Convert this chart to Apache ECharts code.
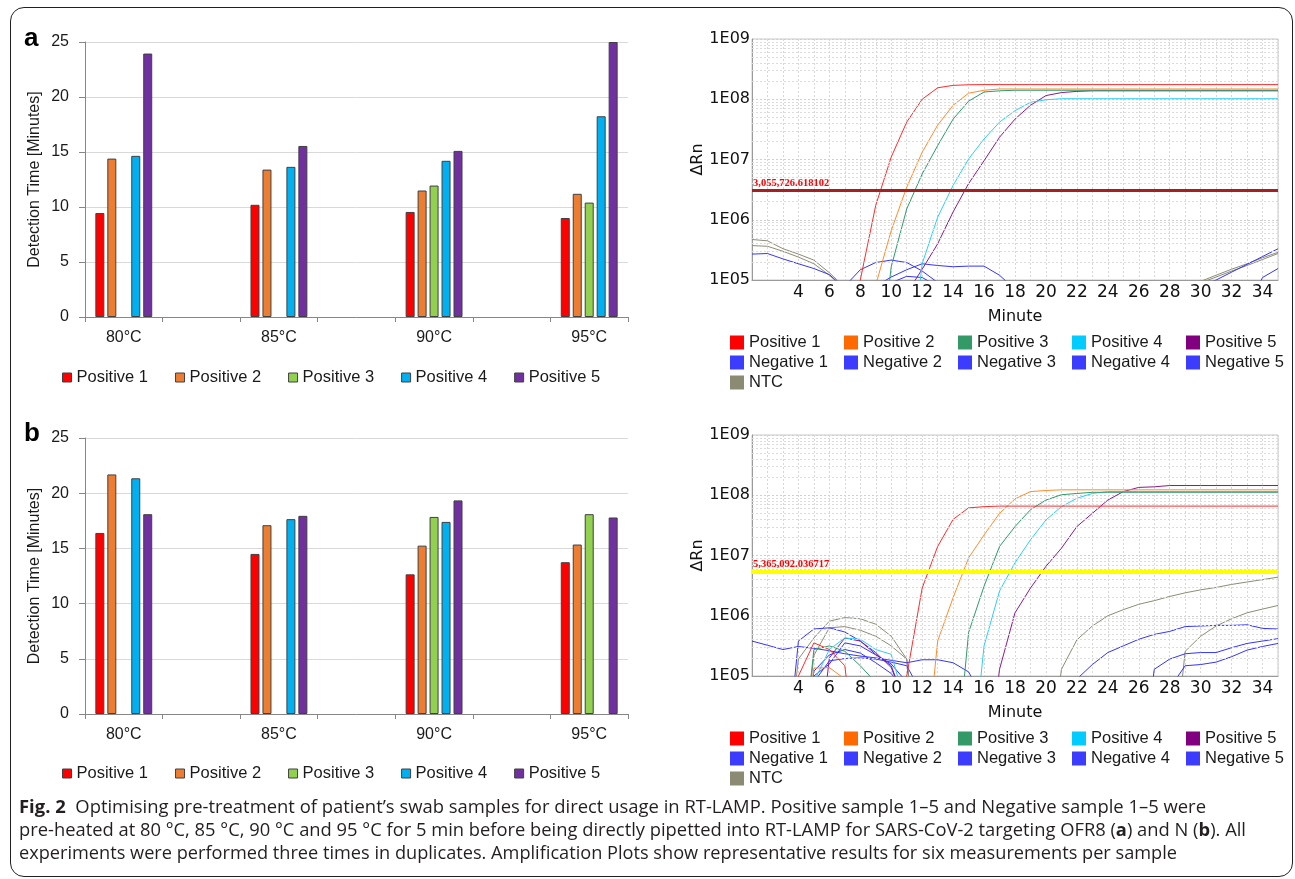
<!DOCTYPE html>
<html><head><meta charset="utf-8">
<script src="https://cdn.jsdelivr.net/npm/echarts@6/dist/echarts.min.js"></script>
<style>
html,body{margin:0;padding:0;background:#fff;}
#frame{position:absolute;left:10px;top:7px;width:1283px;height:870px;border:1px solid #231f20;border-radius:14px;box-sizing:border-box;}
#chart{position:absolute;left:0;top:0;width:1295px;height:879px;}
#cap{position:absolute;left:19px;top:794px;font-family:'Open Sans',sans-serif;font-size:18.5px;color:#231f20;line-height:23px;}
#cap .l{white-space:nowrap;transform-origin:0 0;width:max-content;height:23px;}
</style></head><body>
<div id="frame"></div>
<div id="chart"></div>
<div id="cap">
<div class="l"><b>Fig. 2</b>&nbsp; Optimising pre-treatment of patient’s swab samples for direct usage in RT-LAMP. Positive sample 1–5 and Negative sample 1–5 were</div>
<div class="l">pre-heated at 80 °C, 85 °C, 90 °C and 95 °C for 5 min before being directly pipetted into RT-LAMP for SARS-CoV-2 targeting OFR8 (<b>a</b>) and N (<b>b</b>). All</div>
<div class="l">experiments were performed three times in duplicates. Amplification Plots show representative results for six measurements per sample</div>
</div>
<script>
// ---------- Bar charts (Detection time, minutes) ----------
const temps = ['80°C', '85°C', '90°C', '95°C'];
const posNames = ['Positive 1', 'Positive 2', 'Positive 3', 'Positive 4', 'Positive 5'];
// panel a (ORF8)
const barA_P1 = [9.45, 10.2, 9.55, 9.0];
const barA_P2 = [14.4, 13.4, 11.5, 11.2];
const barA_P3 = [null, null, 11.95, 10.4];
const barA_P4 = [14.65, 13.65, 14.2, 18.25];
const barA_P5 = [23.95, 15.55, 15.1, 25.0];
// panel b (N)
const barB_P1 = [16.4, 14.5, 12.65, 13.75];
const barB_P2 = [21.7, 17.1, 15.25, 15.35];
const barB_P3 = [null, null, 17.85, 18.1];
const barB_P4 = [21.35, 17.65, 17.4, null];
const barB_P5 = [18.1, 17.95, 19.35, 17.8];

// ---------- Amplification plots (ΔRn vs minute) ----------
const minutes = [1,2,3,4,5,6,7,8,9,10,11,12,13,14,15,16,17,18,19,20,21,22,23,24,25,26,27,28,29,30,31,32,33,34,35];
const LO = 1e3; // below the plotted range
const thresholdA = 3055726.618102;
const thresholdB = 5365092.036717;
const yTickLabels = ['1E05','1E06','1E07','1E08','1E09'];
const logMinorLines = [2e5,3e5,4e5,5e5,6e5,7e5,8e5,9e5,2e6,3e6,4e6,5e6,6e6,7e6,8e6,9e6,2e7,3e7,4e7,5e7,6e7,7e7,8e7,9e7,2e8,3e8,4e8,5e8,6e8,7e8,8e8,9e8];

// panel a
const ampA_P1 = [LO,LO,LO,LO,LO,LO,LO,1.0e5,1.74e6,1.1e7,4.17e7,1.0e8,1.55e8,1.7e8,1.74e8,1.75e8,1.75e8,1.75e8,1.75e8,1.75e8,1.75e8,1.75e8,1.75e8,1.75e8,1.75e8,1.75e8,1.75e8,1.75e8,1.75e8,1.75e8,1.75e8,1.75e8,1.75e8,1.75e8,1.75e8];
const ampA_P2 = [LO,LO,LO,LO,LO,LO,LO,LO,8.3e4,6.6e5,3.47e6,1.32e7,3.72e7,7.94e7,1.26e8,1.41e8,1.48e8,1.48e8,1.48e8,1.48e8,1.48e8,1.48e8,1.48e8,1.48e8,1.48e8,1.48e8,1.48e8,1.48e8,1.48e8,1.48e8,1.48e8,1.48e8,1.48e8,1.48e8,1.48e8];
const ampA_P3 = [LO,LO,LO,LO,LO,LO,LO,LO,LO,1.66e5,1.51e6,5.75e6,1.7e7,4.68e7,9.3e7,1.32e8,1.38e8,1.41e8,1.41e8,1.41e8,1.41e8,1.41e8,1.41e8,1.41e8,1.41e8,1.41e8,1.41e8,1.41e8,1.41e8,1.41e8,1.41e8,1.41e8,1.41e8,1.41e8,1.41e8];
const ampA_P4 = [LO,LO,LO,LO,LO,LO,LO,LO,LO,LO,LO,1.86e5,1.1e6,3.72e6,1.02e7,2.19e7,4.17e7,6.46e7,8.9e7,9.8e7,1.02e8,1.02e8,1.02e8,1.02e8,1.02e8,1.02e8,1.02e8,1.02e8,1.02e8,1.02e8,1.02e8,1.02e8,1.02e8,1.02e8,1.02e8];
const ampA_P5 = [LO,LO,LO,LO,LO,LO,LO,LO,LO,LO,6.0e4,1.51e5,3.98e5,1.35e6,3.98e6,9.55e6,2.34e7,4.68e7,7.94e7,1.15e8,1.29e8,1.35e8,1.38e8,1.38e8,1.38e8,1.38e8,1.38e8,1.38e8,1.38e8,1.38e8,1.38e8,1.38e8,1.38e8,1.38e8,1.38e8];
const ampA_N1 = [2.69e5,2.75e5,2.24e5,1.86e5,1.55e5,1.23e5,7.3e4,LO,LO,LO,LO,LO,LO,LO,LO,LO,LO,LO,LO,LO,LO,LO,LO,LO,LO,LO,LO,LO,LO,LO,LO,LO,LO,LO,LO];
const ampA_N2 = [LO,LO,LO,LO,LO,LO,7.9e4,1.48e5,1.95e5,2.14e5,1.95e5,1.41e5,9.1e4,LO,LO,LO,LO,LO,LO,LO,LO,LO,LO,LO,LO,LO,LO,LO,LO,LO,LO,LO,LO,LO,LO];
const ampA_N3 = [LO,LO,LO,LO,LO,LO,LO,LO,7.9e4,1.12e5,1.48e5,1.86e5,1.74e5,1.66e5,1.7e5,1.7e5,1.2e5,7e4,LO,LO,LO,LO,LO,LO,LO,LO,LO,LO,LO,LO,LO,LO,LO,LO,LO];
const ampA_N4 = [LO,LO,LO,LO,LO,LO,LO,LO,LO,9e4,1.15e5,1.1e5,7.9e4,LO,LO,LO,LO,LO,LO,LO,LO,LO,LO,LO,LO,LO,LO,LO,LO,LO,LO,LO,LO,LO,LO];
const ampA_N5 = [LO,LO,LO,LO,LO,LO,LO,LO,LO,LO,LO,LO,LO,LO,LO,LO,LO,LO,LO,LO,LO,LO,LO,LO,LO,LO,LO,LO,LO,7.9e4,1.0e5,1.35e5,1.82e5,2.45e5,3.3e5];
const ampA_N5b = [LO,LO,LO,LO,LO,LO,LO,LO,LO,LO,LO,LO,LO,LO,LO,LO,LO,LO,LO,LO,LO,LO,LO,LO,LO,LO,LO,LO,LO,LO,LO,LO,3.2e4,1.1e5,1.55e5];
const ampA_NTC1 = [4.7e5,4.47e5,3.31e5,2.69e5,2.14e5,1.32e5,7.6e4,LO,LO,LO,LO,LO,LO,LO,LO,LO,LO,LO,LO,LO,LO,LO,LO,LO,LO,LO,LO,LO,LO,9.5e4,1.2e5,1.51e5,1.86e5,2.34e5,2.88e5];
const ampA_NTC2 = [3.72e5,3.63e5,3.0e5,2.4e5,1.86e5,1.2e5,7e4,LO,LO,LO,LO,LO,LO,LO,LO,LO,LO,LO,LO,LO,LO,LO,LO,LO,LO,LO,LO,LO,LO,9e4,1.12e5,1.41e5,1.74e5,2.19e5,2.75e5];

// panel b
const ampB_P1 = [LO,LO,LO,1.0e5,3.55e5,2.75e5,1.48e5,LO,LO,LO,1.0e5,2.88e6,1.41e7,3.98e7,6.17e7,6.46e7,6.6e7,6.6e7,6.6e7,6.6e7,6.6e7,6.6e7,6.6e7,6.6e7,6.6e7,6.6e7,6.6e7,6.6e7,6.6e7,6.6e7,6.6e7,6.6e7,6.6e7,6.6e7,6.6e7];
const ampB_P2 = [LO,LO,LO,LO,1.35e5,1.38e5,8.9e4,LO,LO,LO,LO,LO,3.8e5,2.0e6,9.12e6,2.19e7,5.01e7,8.71e7,1.15e8,1.2e8,1.23e8,1.23e8,1.23e8,1.23e8,1.23e8,1.23e8,1.23e8,1.23e8,1.23e8,1.23e8,1.23e8,1.23e8,1.23e8,1.23e8,1.23e8];
const ampB_P3 = [LO,LO,LO,LO,2.75e5,3.16e5,2.57e5,1.48e5,7.8e4,LO,LO,LO,LO,LO,5.25e5,3.09e6,1.41e7,3.02e7,5.75e7,8.32e7,1.02e8,1.07e8,1.12e8,1.12e8,1.12e8,1.12e8,1.12e8,1.12e8,1.12e8,1.12e8,1.12e8,1.12e8,1.12e8,1.12e8,1.12e8];
const ampB_P4 = [LO,LO,LO,LO,8e4,2.75e5,4.27e5,4.07e5,2.75e5,2.29e5,3e4,LO,LO,LO,LO,3.16e5,2.57e6,7.59e6,1.82e7,3.89e7,6.46e7,8.91e7,1.07e8,1.15e8,1.15e8,1.15e8,1.15e8,1.15e8,1.15e8,1.15e8,1.15e8,1.15e8,1.15e8,1.15e8,1.15e8];
const ampB_P5 = [LO,LO,LO,LO,LO,2.0e5,4.27e5,3.8e5,2.29e5,1.48e5,3e4,LO,LO,LO,LO,LO,1.29e5,1.12e6,2.88e6,6.61e6,1.32e7,3.02e7,5.01e7,8.32e7,1.15e8,1.35e8,1.38e8,1.45e8,1.45e8,1.45e8,1.45e8,1.45e8,1.45e8,1.45e8,1.45e8];
const ampB_N1 = [3.8e5,3.24e5,2.75e5,3.09e5,2.88e5,2.63e5,2.34e5,2.14e5,2.0e5,1.82e5,1.66e5,1.86e5,1.86e5,1.66e5,1.17e5,4e4,LO,LO,LO,LO,LO,LO,LO,LO,LO,LO,LO,LO,LO,LO,LO,LO,LO,LO,LO];
const ampB_N2 = [LO,LO,LO,3.8e5,6.03e5,6.31e5,5.37e5,3.8e5,2.45e5,1.38e5,3e4,LO,LO,LO,LO,LO,LO,LO,LO,LO,LO,8.9e4,1.55e5,2.45e5,3.16e5,4.07e5,4.9e5,5.5e5,6.61e5,6.76e5,6.92e5,6.92e5,7.08e5,6.17e5,6.03e5];
const ampB_N3 = [LO,LO,LO,LO,7.9e4,1.78e5,1.95e5,2.0e5,1.91e5,1.7e5,1.48e5,5e4,LO,LO,LO,LO,LO,LO,LO,LO,LO,LO,LO,LO,LO,LO,1.29e5,1.91e5,2.34e5,2.45e5,2.45e5,2.95e5,3.47e5,3.8e5,4.17e5];
const ampB_N4 = [LO,LO,LO,LO,1.2e5,2.24e5,2.75e5,2.4e5,1.66e5,1.1e5,5e4,LO,LO,LO,LO,LO,LO,LO,LO,LO,LO,LO,LO,LO,LO,LO,LO,6.3e4,1.48e5,1.55e5,1.7e5,2.09e5,2.69e5,3.09e5,3.47e5];
const ampB_N5 = [LO,LO,LO,LO,1.0e5,1.58e5,3.55e5,3.16e5,2.24e5,1.58e5,7.9e4,LO,LO,LO,LO,LO,LO,LO,LO,LO,LO,LO,LO,LO,LO,LO,LO,LO,LO,LO,LO,LO,LO,LO,LO];
const ampB_NTC1 = [LO,LO,LO,1.91e5,4.27e5,8.13e5,9.33e5,8.91e5,7.24e5,4.57e5,1.91e5,LO,LO,LO,LO,LO,LO,LO,LO,LO,1.29e5,3.98e5,6.76e5,1.0e6,1.26e6,1.55e6,1.78e6,2.09e6,2.4e6,2.69e6,2.95e6,3.31e6,3.63e6,3.98e6,4.37e6];
const ampB_NTC2 = [LO,LO,LO,LO,2.2e5,6.3e5,6.6e5,5.75e5,4.57e5,3.16e5,1.91e5,LO,LO,LO,LO,LO,LO,LO,LO,LO,LO,LO,LO,LO,LO,LO,LO,LO,2.57e5,4.57e5,6.76e5,8.91e5,1.12e6,1.29e6,1.48e6];

// ---------- styles ----------
const barColors = ['#ff0000', '#ed7d31', '#92d050', '#00b0f0', '#7030a0'];
const ampLineColors = {P1:'#ff2a2a', P2:'#ff8a2a', P3:'#2e9a6a', P4:'#2ccdf8', P5:'#8a1a8a', NEG:'#3434ff', NTC:'#8c8c76'};
const ampLegendNames = ['Positive 1','Positive 2','Positive 3','Positive 4','Positive 5','Negative 1','Negative 2','Negative 3','Negative 4','Negative 5','NTC'];
const ampLegendColors = ['#ff0000','#ff6a00','#339966','#00ccff','#800080','#3c3cff','#3c3cff','#3c3cff','#3c3cff','#3c3cff','#8b8b73'];

const SANS = 'Liberation Sans';
const VER = 'DejaVu Sans';
const expand = v => [v[0], null, v[1], null, v[2], null, v[3]];
const cats = [temps[0], '', temps[1], '', temps[2], '', temps[3]];
const pairs = arr => minutes.map((m, i) => [m, arr[i]]);

function barAxes(gi) {
  return {
    x: {type:'category', gridIndex:gi, data:cats,
        axisLine:{lineStyle:{color:'#868686'}},
        axisTick:{show:true, length:5, lineStyle:{color:'#868686'}},
        axisLabel:{interval:0, margin:13, fontSize:16, fontFamily:SANS, color:'#1a1a1a'}},
    y: {type:'value', gridIndex:gi, min:0, max:25, interval:5,
        axisLine:{show:true, lineStyle:{color:'#868686'}},
        axisTick:{show:true, length:6, lineStyle:{color:'#868686'}},
        axisLabel:{margin:16, fontSize:16, fontFamily:SANS, color:'#1a1a1a'},
        splitLine:{lineStyle:{color:'#d9d9d9'}},
        name:'Detection Time [Minutes]', nameLocation:'middle', nameGap:42,
        nameTextStyle:{fontSize:16, fontFamily:SANS, color:'#1a1a1a'}}
  };
}
function ampAxes(gi) {
  return {
    x: {type:'value', gridIndex:gi, min:1, max:35, interval:1,
        axisLine:{lineStyle:{color:'#9a9a9a'}}, axisTick:{show:false},
        axisLabel:{margin:4, fontSize:17, fontFamily:VER, color:'#111',
          formatter: v => (v >= 4 && v % 2 === 0) ? String(v) : ''},
        splitLine:{show:true, lineStyle:{color:'#d6d6d6', type:[2,2]}},
        name:'Minute', nameLocation:'middle', nameGap:29,
        nameTextStyle:{fontSize:16, fontFamily:VER, color:'#111'}},
    y: {type:'log', logBase:10, gridIndex:gi, min:1e5, max:1e9,
        axisLine:{show:true, lineStyle:{color:'#9a9a9a'}}, axisTick:{show:false},
        axisLabel:{margin:2, fontSize:16, fontFamily:VER, color:'#111',
          formatter: v => yTickLabels[Math.round(Math.log10(v)) - 5]},
        splitLine:{show:true, lineStyle:{color:'#cfcfcf', type:[2,2]}},
        name:'ΔRn', nameLocation:'middle', nameGap:42,
        nameTextStyle:{fontSize:16, fontFamily:VER, color:'#111'}}
  };
}
const bA = barAxes(0), bB = barAxes(1), aA = ampAxes(2), aB = ampAxes(3);

const series = [];
function addBars(gi, sets) {
  sets.forEach((vals, i) => series.push({
    type:'bar', name:posNames[i], xAxisIndex:gi, yAxisIndex:gi, data:expand(vals),
    barWidth:9, barGap:'33%',
    itemStyle:{color:barColors[i], borderColor:'#404040', borderWidth:1}
  }));
}
addBars(0, [barA_P1, barA_P2, barA_P3, barA_P4, barA_P5]);
addBars(1, [barB_P1, barB_P2, barB_P3, barB_P4, barB_P5]);

function addHelpers(gi, thr, thrColor, thrWidth) {
  series.push({type:'line', name:'minor'+gi, xAxisIndex:gi, yAxisIndex:gi, data:[[1, LO]],
    symbol:'none', lineStyle:{opacity:0}, silent:true, z:1,
    markLine:{silent:true, symbol:'none', animation:false, label:{show:false},
      lineStyle:{color:'#dcdcdc', type:[2,2], width:1},
      data: logMinorLines.map(v => ({yAxis:v}))}});
  series.push({type:'line', name:'thr'+gi, xAxisIndex:gi, yAxisIndex:gi, data:[[1, LO]],
    symbol:'none', lineStyle:{opacity:0}, silent:true, z:5,
    markLine:{silent:true, symbol:'none', animation:false,
      lineStyle:{color:thrColor, width:thrWidth, type:'solid'},
      label:{show:true, position:'insideStartTop', distance:[1, 2],
        formatter: () => thr.toLocaleString('en-US', {maximumFractionDigits:6}),
        color:'#ff0000', fontFamily:'Liberation Serif', fontWeight:'bold', fontSize:10.5},
      data:[{yAxis:thr}]}});
}
function addLine(gi, name, arr, color) {
  series.push({type:'line', name, xAxisIndex:gi, yAxisIndex:gi, data:pairs(arr),
    symbol:'none', clip:true, z:3, lineStyle:{width:1, color}, itemStyle:{color}});
}
addHelpers(2, thresholdA, '#a52020', 3);
addLine(2,'NTC',ampA_NTC1,ampLineColors.NTC);
addLine(2,'NTC',ampA_NTC2,ampLineColors.NTC);
addLine(2,'Negative 1',ampA_N1,ampLineColors.NEG);
addLine(2,'Negative 2',ampA_N2,ampLineColors.NEG);
addLine(2,'Negative 3',ampA_N3,ampLineColors.NEG);
addLine(2,'Negative 4',ampA_N4,ampLineColors.NEG);
addLine(2,'Negative 5',ampA_N5,ampLineColors.NEG);
addLine(2,'Negative 5',ampA_N5b,ampLineColors.NEG);
addLine(2,'Positive 5',ampA_P5,ampLineColors.P5);
addLine(2,'Positive 4',ampA_P4,ampLineColors.P4);
addLine(2,'Positive 3',ampA_P3,ampLineColors.P3);
addLine(2,'Positive 2',ampA_P2,ampLineColors.P2);
addLine(2,'Positive 1',ampA_P1,ampLineColors.P1);

addHelpers(3, thresholdB, '#ffff00', 4);
addLine(3,'NTC',ampB_NTC1,ampLineColors.NTC);
addLine(3,'NTC',ampB_NTC2,ampLineColors.NTC);
addLine(3,'Negative 1',ampB_N1,ampLineColors.NEG);
addLine(3,'Negative 2',ampB_N2,ampLineColors.NEG);
addLine(3,'Negative 3',ampB_N3,ampLineColors.NEG);
addLine(3,'Negative 4',ampB_N4,ampLineColors.NEG);
addLine(3,'Negative 5',ampB_N5,ampLineColors.NEG);
addLine(3,'Positive 5',ampB_P5,ampLineColors.P5);
addLine(3,'Positive 4',ampB_P4,ampLineColors.P4);
addLine(3,'Positive 3',ampB_P3,ampLineColors.P3);
addLine(3,'Positive 2',ampB_P2,ampLineColors.P2);
addLine(3,'Positive 1',ampB_P1,ampLineColors.P1);

function barLegend(top) {
  return {top, left:57, orient:'horizontal', itemWidth:9, itemHeight:9, itemGap:27, icon:'rect',
    selectedMode:false, textStyle:{fontSize:16.5, fontFamily:SANS, color:'#1a1a1a'},
    data: posNames.map((n, i) => ({name:n, itemStyle:{color:barColors[i], borderColor:'#404040', borderWidth:1}}))};
}
function ampLegend(top) {
  return {top, left:725, width:575, orient:'horizontal', itemWidth:14, itemHeight:14, itemGap:3, icon:'rect',
    selectedMode:false, textStyle:{fontSize:16.5, fontFamily:SANS, color:'#1a1a1a', width:92, lineHeight:17},
    data: ampLegendNames.map((n, i) => ({name:n, itemStyle:{color:ampLegendColors[i], borderWidth:0}}))};
}

const chart = echarts.init(document.getElementById('chart'));
chart.setOption({
  animation:false,
  backgroundColor:'transparent',
  grid:[
    {left:85, top:42, width:543, height:275},
    {left:85, top:438, width:543, height:276},
    {left:752, top:39, width:526, height:241, show:true, borderColor:'#c8c8c8', borderWidth:1, backgroundColor:'transparent'},
    {left:752, top:435, width:526, height:241, show:true, borderColor:'#c8c8c8', borderWidth:1, backgroundColor:'transparent'}
  ],
  xAxis:[bA.x, bB.x, aA.x, aB.x],
  yAxis:[bA.y, bB.y, aA.y, aB.y],
  legend:[barLegend(364), barLegend(760), ampLegend(329), ampLegend(725)],
  graphic:[
    {type:'text', left:24, top:26, style:{text:'a', font:'bold 26px "Liberation Sans"', fill:'#000'}},
    {type:'text', left:24, top:421, style:{text:'b', font:'bold 26px "Liberation Sans"', fill:'#000'}}
  ],
  series
});

// fit caption lines to the reference line widths
const capTargets = [1187, 1227, 1158];
document.querySelectorAll('#cap .l').forEach((el, i) => {
  const w = el.getBoundingClientRect().width;
  el.style.transform = 'scaleX(' + (capTargets[i] / w) + ')';
});
</script>
</body></html>
